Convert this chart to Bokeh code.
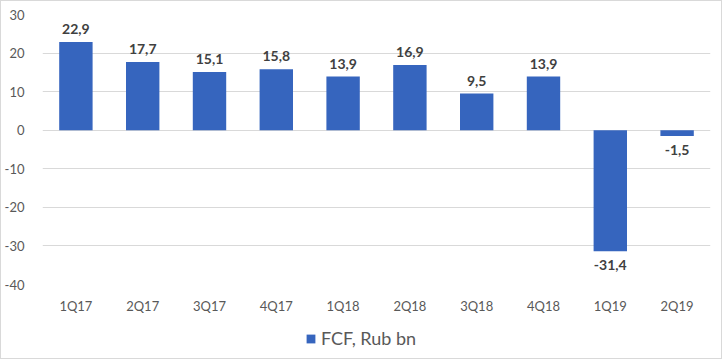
from bokeh.plotting import figure
from bokeh.layouts import column
from bokeh.models import ColumnDataSource, Range1d, FactorRange, Legend, LegendItem, FixedTicker
from bokeh.core.properties import value
from bokeh.embed import file_html
from bokeh.resources import INLINE

categories = ["1Q17", "2Q17", "3Q17", "4Q17", "1Q18", "2Q18", "3Q18", "4Q18", "1Q19", "2Q19"]
fcf = [22.9, 17.7, 15.1, 15.8, 13.9, 16.9, 9.5, 13.9, -31.4, -1.5]
labels = ["22,9", "17,7", "15,1", "15,8", "13,9", "16,9", "9,5", "13,9", "-31,4", "-1,5"]
y_ticks = [-40, -30, -20, -10, 0, 10, 20, 30]
y_tick_labels = ["-40", "-30", "-20", "-10", "0", "10", "20", "30"]
series_name = "FCF, Rub bn"

FONT = "Lato"
BLUE = "#3665BE"

src = ColumnDataSource(dict(cat=categories, val=fcf, lab=labels))
pos = ColumnDataSource(dict(cat=[c for c, v in zip(categories, fcf) if v >= 0],
                            val=[v for v in fcf if v >= 0],
                            lab=[l for l, v in zip(labels, fcf) if v >= 0]))
neg = ColumnDataSource(dict(cat=[c for c, v in zip(categories, fcf) if v < 0],
                            val=[v for v in fcf if v < 0],
                            lab=[l for l, v in zip(labels, fcf) if v < 0]))

p = figure(width=720, height=320, x_range=FactorRange(*categories, range_padding=0),
           y_range=Range1d(-40, 30), output_backend="svg", toolbar_location=None,
           min_border_left=37, min_border_right=11, min_border_top=13, min_border_bottom=37)
p.outline_line_color = None
p.background_fill_color = "white"
p.border_fill_color = "white"

r = p.vbar(x="cat", top="val", bottom=0, width=0.5, source=src, color=BLUE, line_color=None)

p.text(x="cat", y="val", text="lab", source=pos, text_align="center", text_baseline="bottom",
       y_offset=-8, text_font=value(FONT), text_font_style="bold", text_font_size="14px",
       text_color="#404040")
p.text(x="cat", y="val", text="lab", source=neg, text_align="center", text_baseline="top",
       y_offset=9, text_font=value(FONT), text_font_style="bold", text_font_size="14px",
       text_color="#404040")

p.yaxis.ticker = FixedTicker(ticks=y_ticks)
p.yaxis.major_label_overrides = {t: s for t, s in zip(y_ticks, y_tick_labels)}
p.yaxis.axis_line_color = None
p.yaxis.major_tick_line_color = None
p.yaxis.minor_tick_line_color = None
p.yaxis.major_label_text_font = FONT
p.yaxis.major_label_text_font_size = "13px"
p.yaxis.major_label_text_color = "#595959"
p.yaxis.major_label_standoff = 12

p.xaxis.axis_line_color = None
p.xaxis.major_tick_line_color = None
p.xaxis.major_label_text_font = FONT
p.xaxis.major_label_text_font_size = "13px"
p.xaxis.major_label_text_color = "#595959"
p.xaxis.major_label_standoff = 7

p.xgrid.grid_line_color = None
p.ygrid.grid_line_color = "#d9d9d9"
p.ygrid.grid_line_width = 1

# legend strip below the chart (its bars lie outside its visible range; only the legend shows)
lg = figure(width=720, height=37, output_backend="svg", toolbar_location=None,
            x_range=FactorRange(*categories), y_range=Range1d(100, 101),
            x_axis_type=None, y_axis_type=None, min_border=0)
lg.outline_line_color = None
lg.grid.visible = False
lg.border_fill_color = "white"
lg.background_fill_color = "white"
r2 = lg.vbar(x="cat", top="val", bottom=0, width=0.5, source=src, color=BLUE, line_color=None)
legend = Legend(items=[LegendItem(label=series_name, renderers=[r2])], orientation="horizontal",
                location=(263, 9), border_line_color=None, background_fill_alpha=0,
                label_text_font=FONT, label_text_font_size="18px", label_text_color="#595959",
                glyph_width=11, glyph_height=11, label_standoff=5, padding=2, margin=0)
lg.add_layout(legend, "center")

layout = column(p, lg, spacing=0, styles={"border": "1px solid #d9d9d9"})

open("out.html", "w").write(file_html(layout, INLINE))
